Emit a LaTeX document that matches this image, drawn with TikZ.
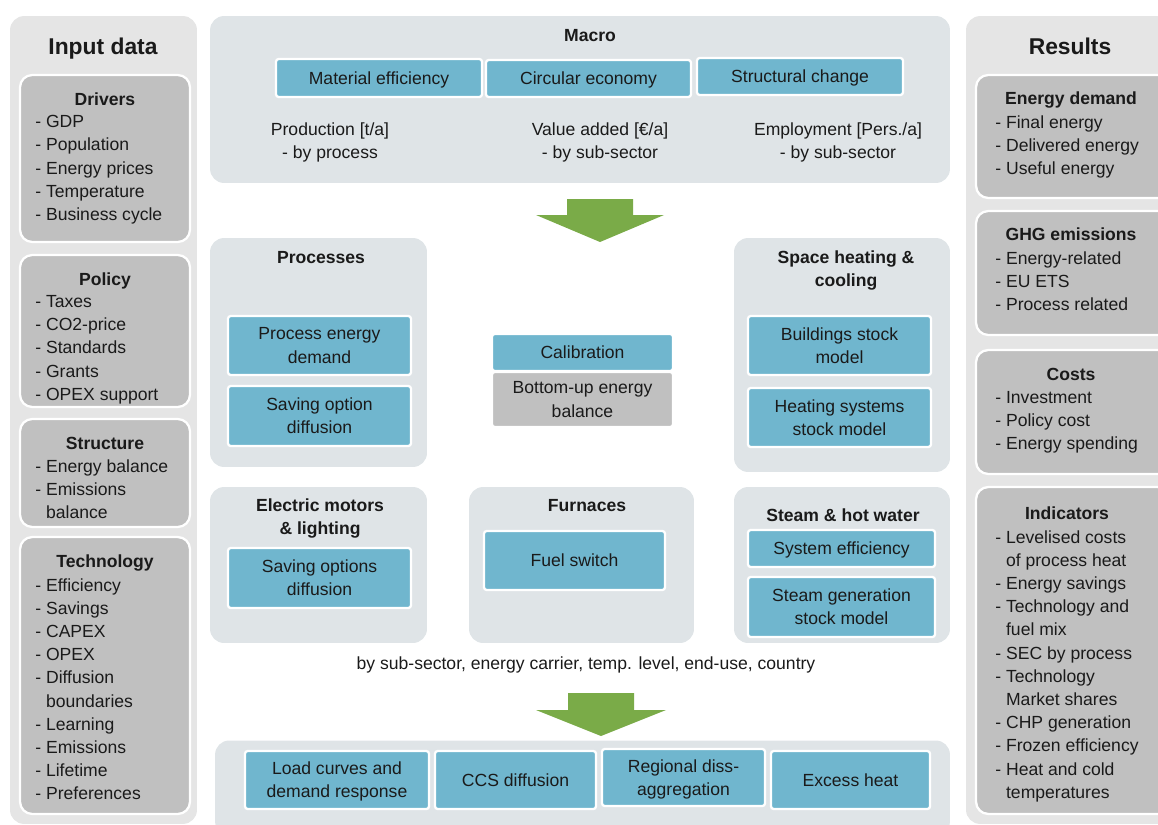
\documentclass[tikz,border=0pt]{standalone}
\usepackage{fontspec}
\setmainfont{Liberation Sans}
\usepackage{tikz}
\usetikzlibrary{positioning}
\usepackage{xcolor}

\definecolor{sidegray}{HTML}{E5E5E5}
\definecolor{boxgray}{HTML}{C0C0C0}
\definecolor{panelblue}{HTML}{DFE4E7}
\definecolor{blockblue}{HTML}{70B6CE}
\definecolor{arrowgreen}{HTML}{7AAB48}
\definecolor{inkgray}{HTML}{1A1A1A}

\begin{document}
\begin{tikzpicture}[
  x=0.02cm, y=-0.02cm,
  every node/.style={font=\fontsize{10}{13.2}\selectfont, text=inkgray, text depth=0pt},
  sidepanel/.style={fill=sidegray, rounded corners=8pt, inner sep=0pt},
  infobox/.style={fill=boxgray, draw=white, line width=1.3pt, rounded corners=7pt, inner sep=0pt},
  panel/.style={fill=panelblue, rounded corners=8pt, inner sep=0pt},
  block/.style={fill=blockblue, draw=white, line width=1.3pt, rounded corners=1.5pt, align=center, inner sep=0pt},
  grayblock/.style={block, fill=boxgray},
  heading/.style={font=\bfseries\fontsize{13}{15}\selectfont},
  boxtitle/.style={font=\bfseries\fontsize{10}{13.2}\selectfont, align=center},
  items/.style={anchor=north west, align=left, inner sep=0pt},
  bigarrow/.style={fill=arrowgreen, draw=none}
]
\useasboundingbox (0,0) rectangle (1158,824);

% ==================
% Input data
% ==================
\node[sidepanel, minimum width=3.74cm, minimum height=16.16cm] (input) at (103.5,420) {};
\node[heading] (inputT) at (103,46) {Input data};

\node[infobox, minimum width=3.4cm, minimum height=3.34cm] (drivers) at (105,158.5) {};
\node[boxtitle] (driversT) at (105,99) {Drivers};
\node[items] (driversL) at (35,115) {- GDP\\- Population\\- Energy prices\\- Temperature\\- Business cycle};

\node[infobox, minimum width=3.4cm, minimum height=3.04cm] (policy) at (105,331) {};
\node[boxtitle] (policyT) at (105,279) {Policy};
\node[items] (policyL) at (35,295) {- Taxes\\- CO2-price\\- Standards\\- Grants\\- OPEX support};

\node[infobox, minimum width=3.4cm, minimum height=2.16cm] (structure) at (105,473) {};
\node[boxtitle] (structureT) at (105,443) {Structure};
\node[items] (structureL) at (35,459) {- Energy balance\\- Emissions\\\phantom{- }balance};

\node[infobox, minimum width=3.4cm, minimum height=5.54cm] (technology) at (105,675.5) {};
\node[boxtitle] (technologyT) at (105,561) {Technology};
\node[items] (technologyL) at (35,578) {- Efficiency\\- Savings\\- CAPEX\\- OPEX\\- Diffusion\\\phantom{- }boundaries\\- Learning\\- Emissions\\- Lifetime\\- Preferences};

% ==================
% Results
% ==================
\node[sidepanel, minimum width=4.08cm, minimum height=16.16cm] (results) at (1068,420) {};
\node[heading] (resultsT) at (1070,46) {Results};

\node[infobox, minimum width=3.88cm, minimum height=2.46cm] (edemand) at (1073,136.5) {};
\node[boxtitle] (edemandT) at (1071,98) {Energy demand};
\node[items] (edemandL) at (995,115) {- Final energy\\- Delivered energy\\- Useful energy};

\node[infobox, minimum width=3.88cm, minimum height=2.48cm] (ghg) at (1073,273) {};
\node[boxtitle] (ghgT) at (1071,234) {GHG emissions};
\node[items] (ghgL) at (995,251) {- Energy-related\\- EU ETS\\- Process related};

\node[infobox, minimum width=3.88cm, minimum height=2.48cm] (costs) at (1073,412) {};
\node[boxtitle] (costsT) at (1071,374) {Costs};
\node[items] (costsL) at (995,391) {- Investment\\- Policy cost\\- Energy spending};

\node[infobox, minimum width=3.88cm, minimum height=6.54cm] (indicators) at (1073,650.5) {};
\node[boxtitle] (indicatorsT) at (1067,513) {Indicators};
\node[items] (indicatorsL) at (995,530) {- Levelised costs\\\phantom{- }of process heat\\- Energy savings\\- Technology and\\\phantom{- }fuel mix\\- SEC by process\\- Technology\\\phantom{- }Market shares\\- CHP generation\\- Frozen efficiency\\- Heat and cold\\\phantom{- }temperatures};

% ==================
% Macro
% ==================
\node[panel, minimum width=14.8cm, minimum height=3.34cm] (macro) at (580,99.5) {};
\node[boxtitle] (macroT) at (590,35) {Macro};
\node[block, minimum width=4.12cm, minimum height=0.76cm] (mateff) at (379,78) {Material efficiency};
\node[block, minimum width=4.1cm, minimum height=0.74cm] (circecon) at (588.5,78.5) {Circular economy};
\node[block, minimum width=4.12cm, minimum height=0.74cm] (structch) at (800,76.5) {Structural change};
\node[align=center] (production) at (330,141) {Production [t/a]\\- by process};
\node[align=center] (valueadded) at (600,141) {Value added [€/a]\\- by sub-sector};
\node[align=center] (employment) at (838,141) {Employment [Pers./a]\\- by sub-sector};

\fill[bigarrow] (567,199) -- (633,199) -- (633,215) -- (664,215) -- (600,242) -- (536,215) -- (567,215) -- cycle;

% ==================
% Sector modules
% ==================
\node[panel, minimum width=4.34cm, minimum height=4.58cm] (processes) at (318.5,352.5) {};
\node[boxtitle] (processesT) at (321,257) {Processes};
\node[block, minimum width=3.66cm, minimum height=1.18cm] (procdem) at (319.5,345.5) {Process energy\\demand};
\node[block, minimum width=3.66cm, minimum height=1.2cm] (savopt) at (319.5,416) {Saving option\\diffusion};

\node[block, minimum width=3.62cm, minimum height=0.74cm] (calib) at (582.5,352.5) {Calibration};
\node[grayblock, minimum width=3.62cm, minimum height=1.1cm] (bottomup) at (582.5,399.5) {Bottom-up energy\\balance};

\node[panel, minimum width=4.32cm, minimum height=4.68cm] (spaceheat) at (842,355) {};
\node[boxtitle] (spaceheatT) at (846,269) {Space heating \&\\cooling};
\node[block, minimum width=3.66cm, minimum height=1.18cm] (buildings) at (839.5,345.5) {Buildings stock\\model};
\node[block, minimum width=3.66cm, minimum height=1.18cm] (heatsys) at (839.5,417.5) {Heating systems\\stock model};

\node[panel, minimum width=4.34cm, minimum height=3.12cm] (motors) at (318.5,565) {};
\node[boxtitle] (motorsT) at (320,517) {Electric motors\\\& lighting};
\node[block, minimum width=3.66cm, minimum height=1.2cm] (savopts) at (319.5,578) {Saving options\\diffusion};

\node[panel, minimum width=4.5cm, minimum height=3.12cm] (furnaces) at (581.5,565) {};
\node[boxtitle] (furnacesT) at (587,505) {Furnaces};
\node[block, minimum width=3.62cm, minimum height=1.18cm] (fuelsw) at (574.5,560.5) {Fuel switch};

\node[panel, minimum width=4.32cm, minimum height=3.12cm] (steam) at (842,565) {};
\node[boxtitle] (steamT) at (843,515) {Steam \& hot water};
\node[block, minimum width=3.74cm, minimum height=0.74cm] (syseff) at (841.5,548.5) {System efficiency};
\node[block, minimum width=3.74cm, minimum height=1.2cm] (steamgen) at (841.5,607) {Steam generation\\stock model};

\node (bysector) at (586,663) {by sub-sector, energy carrier, temp. level, end-use, country};

\fill[bigarrow] (568,693) -- (634,693) -- (634,710) -- (666,710) -- (601,736) -- (536,710) -- (568,710) -- cycle;

% ==================
% Add-on modules
% ==================
\node[panel, minimum width=14.7cm, minimum height=1.9cm] (addons) at (582.5,788) {};
\node[block, minimum width=3.68cm, minimum height=1.16cm] (loadcurves) at (337,780) {Load curves and\\demand response};
\node[block, minimum width=3.22cm, minimum height=1.16cm] (ccs) at (515.5,780) {CCS diffusion};
\node[block, minimum width=3.26cm, minimum height=1.14cm] (regional) at (683.5,777.5) {Regional diss-\\aggregation};
\node[block, minimum width=3.18cm, minimum height=1.16cm] (excess) at (850.5,780) {Excess heat};
\end{tikzpicture}
\end{document}
